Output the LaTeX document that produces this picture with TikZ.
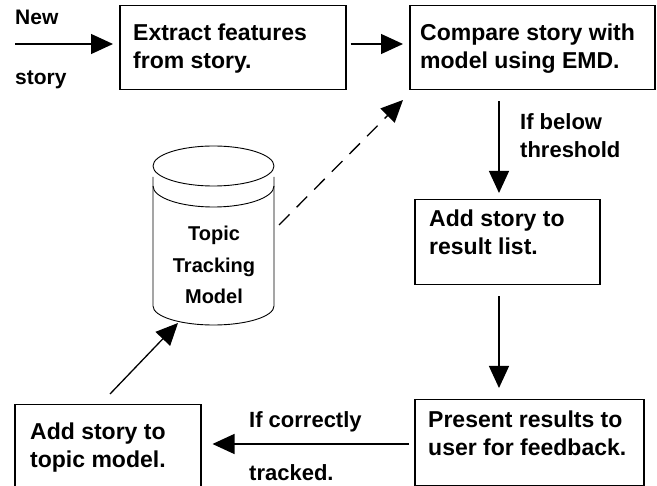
\documentclass[tikz,border=0pt]{standalone}
\usepackage{fontspec}
\setmainfont{Liberation Sans}
\usetikzlibrary{arrows.meta}
\begin{document}
\begin{tikzpicture}[x=1pt,y=-1pt,
  box/.style={draw, line width=1.5pt, inner sep=0pt, anchor=north west},
  btxt/.style={font=\fontsize{23}{28}\selectfont\bfseries, align=left, inner sep=0pt, anchor=west},
  lbl/.style={font=\fontsize{22}{26}\selectfont\bfseries, inner sep=0pt, anchor=base west},
  smlbl/.style={font=\fontsize{21}{24}\selectfont\bfseries, inner sep=0pt, anchor=base west},
  arr/.style={line width=1.3pt, -{Triangle[length=22pt,width=20pt]}},
  cylline/.style={line width=0.9pt}]
\useasboundingbox (0,0) rectangle (657,486);

% boxes
\node[box, minimum width=226pt, minimum height=84pt] (b1) at (119,5) {};
\node[box, minimum width=245pt, minimum height=84pt] (b2) at (409,5) {};
\node[box, minimum width=185pt, minimum height=85pt] (b3) at (414,199) {};
\node[box, minimum width=229pt, minimum height=86pt] (b5) at (414,399) {};
\node[box, minimum width=186pt, minimum height=92pt] (b6) at (14,404) {};

% box texts
\node[btxt] (t1) at (133,48.5) {Extract features\\from story.};
\node[btxt] (t2) at (420,48.5) {Compare story with\\model using EMD.};
\node[btxt] (t3) at (429,232.5) {Add story to\\result list.};
\node[btxt] (t5) at (428,433.5) {Present results to\\user for feedback.};
\node[btxt] (t6) at (30,447.5) {Add story to\\topic model.};

% cylinder
\draw[cylline] (213.5,166) ellipse [x radius=60.5pt, y radius=20pt];
\draw[cylline] (153,177) -- (153,306) arc[start angle=180, end angle=360, x radius=60.5pt, y radius=19pt] -- (274,177);
\draw[cylline] (153,186) arc[start angle=180, end angle=360, x radius=60.5pt, y radius=21pt];
\node[font=\fontsize{20}{31.5}\selectfont\bfseries, align=center, inner sep=0pt] (cyl) at (214,265) {Topic\\Tracking\\Model};

% labels
\node[smlbl] (new) at (15,25) {New};
\node[smlbl] (story) at (15,85) {story};
\node[lbl] (ib) at (520,130) {If below};
\node[lbl] (th) at (520,158) {threshold};
\node[lbl] (ic) at (249,428) {If correctly};
\node[lbl] (tr) at (249,481) {tracked.};

% connectors
\coordinate (n0) at (15,44);
\coordinate (vx) at (499,0);
\coordinate (hy) at (0,444);
\coordinate (p0) at (110,394);
\coordinate (p1) at (178,323);
\coordinate (d0) at (279,225);
\coordinate (d1) at (403,100);
\draw[arr, shorten >=6pt] (n0) -- (b1.west |- n0);
\draw[arr, shorten <=4pt, shorten >=6pt] (b1.east |- n0) -- (b2.west |- n0);
\draw[arr, shorten <=11pt, shorten >=6pt] (b2.south -| vx) -- (b3.north -| vx);
\draw[arr, shorten <=11pt, shorten >=11pt] (b3.south -| vx) -- (b5.north -| vx);
\draw[arr, shorten <=5pt, shorten >=11pt] (b5.west |- hy) -- (b6.east |- hy);
\draw[arr] (p0) -- (p1);
\draw[arr, dash pattern=on 15pt off 10pt] (d0) -- (d1);
\end{tikzpicture}
\end{document}
